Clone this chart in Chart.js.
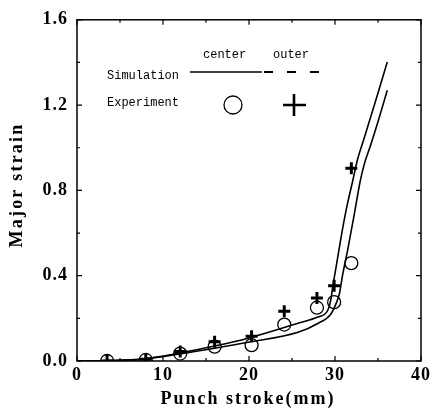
<!DOCTYPE html>
<html>
<head>
<meta charset="utf-8">
<script src="https://cdn.jsdelivr.net/npm/chart.js@4/dist/chart.umd.min.js"></script>
<style>
  html,body{margin:0;padding:0;background:#fff;}
  #wrap{width:434px;height:411px;}
</style>
</head>
<body>
<div id="wrap"><canvas id="c" width="434" height="411"></canvas></div>
<script>
// ---- data ----
const simOuterX = [0, 4, 7.6, 11.9, 16, 19.9, 25.7, 28.0, 29.16, 29.55, 29.74, 30.12, 30.7, 31.27, 32.05, 32.62, 33.39, 34.16, 34.93, 36.08];
const simOuterY = [0, 0.002, 0.009, 0.037, 0.07, 0.107, 0.177, 0.206, 0.238, 0.295, 0.35, 0.439, 0.579, 0.703, 0.843, 0.945, 1.045, 1.146, 1.247, 1.402];
const simCenterX = [0, 4, 7.6, 11.9, 16, 19.9, 25.7, 28.0, 29.55, 30.12, 30.51, 30.89, 31.47, 32.24, 32.93, 33.39, 34.16, 35.12, 36.08];
const simCenterY = [0, 0.002, 0.009, 0.033, 0.06, 0.088, 0.135, 0.176, 0.222, 0.269, 0.315, 0.405, 0.52, 0.688, 0.843, 0.921, 1.014, 1.138, 1.27];
const expX = [3.5, 8, 12, 16, 20.3, 24.1, 27.9, 29.9, 31.9];
const expCenterY = [0, 0.005, 0.035, 0.067, 0.074, 0.171, 0.25, 0.276, 0.459];
const expOuterY = [0, 0.008, 0.045, 0.09, 0.116, 0.233, 0.296, 0.353, 0.904];
const xTicks = [0, 10, 20, 30, 40];
const yTicks = [0.0, 0.4, 0.8, 1.2, 1.6];
const xMinorStep = 5;
const yMinorStep = 0.2;
const xTitle = 'Punch stroke(mm)';
const yTitle = 'Major strain';

const pts = (xs, ys) => xs.map((x, i) => ({x: x, y: ys[i]}));

const spacing = {
  id: 'spacing',
  beforeDraw(chart) { chart.ctx.letterSpacing = '1px'; },
  afterDraw(chart) { chart.ctx.letterSpacing = '0px'; }
};

const frameTicks = {
  id: 'frameTicks',
  afterDraw(chart) {
    const ctx = chart.ctx, a = chart.chartArea;
    const xs = chart.scales.x, ys = chart.scales.y;
    ctx.save();
    ctx.strokeStyle = '#000';
    ctx.lineWidth = 1.5;
    ctx.strokeRect(a.left, a.top, a.right - a.left, a.bottom - a.top);
    ctx.lineWidth = 1.2;
    ctx.beginPath();
    for (let v = xs.min; v <= xs.max + 1e-9; v += xMinorStep) {
      const p = xs.getPixelForValue(v);
      const L = xTicks.includes(v) ? 5 : 3;
      ctx.moveTo(p, a.bottom); ctx.lineTo(p, a.bottom - L);
      ctx.moveTo(p, a.top); ctx.lineTo(p, a.top + L);
    }
    for (let i = 0; i * yMinorStep <= ys.max + 1e-9; i++) {
      const p = ys.getPixelForValue(i * yMinorStep);
      const L = (i % 2 === 0) ? 5 : 3;
      ctx.moveTo(a.left, p); ctx.lineTo(a.left + L, p);
      ctx.moveTo(a.right, p); ctx.lineTo(a.right - L, p);
    }
    ctx.stroke();

    // axis titles
    ctx.fillStyle = '#000';
    ctx.font = 'bold 18px "Liberation Serif", serif';
    ctx.letterSpacing = '2px';
    ctx.textAlign = 'center';
    ctx.textBaseline = 'alphabetic';
    ctx.fillText(xTitle, 248, 404);
    ctx.save();
    ctx.translate(22, 185);
    ctx.rotate(-Math.PI / 2);
    ctx.letterSpacing = '2.2px';
    ctx.fillText(yTitle, 0, 0);
    ctx.restore();

    // legend
    ctx.letterSpacing = '0px';
    ctx.font = '12px "Liberation Mono", monospace';
    ctx.textBaseline = 'middle';
    ctx.textAlign = 'left';
    ctx.fillText('center', 203, 55);
    ctx.fillText('outer', 273, 55);
    ctx.fillText('Simulation', 107, 76);
    ctx.fillText('Experiment', 107, 103);
    ctx.lineWidth = 1.5;
    ctx.beginPath(); ctx.moveTo(190, 72); ctx.lineTo(262, 72); ctx.stroke();
    ctx.lineWidth = 2;
    ctx.setLineDash([9, 14]);
    ctx.beginPath(); ctx.moveTo(264, 72); ctx.lineTo(322, 72); ctx.stroke();
    ctx.setLineDash([]);
    ctx.lineWidth = 1.3;
    ctx.beginPath(); ctx.arc(233, 105, 9, 0, Math.PI * 2); ctx.stroke();
    ctx.lineWidth = 2.6;
    ctx.beginPath();
    ctx.moveTo(283, 105); ctx.lineTo(306, 105);
    ctx.moveTo(294, 94); ctx.lineTo(294, 116);
    ctx.stroke();
    ctx.restore();
  }
};

const tickFont = {family: '"Liberation Serif", serif', size: 18, weight: 'bold'};

new Chart(document.getElementById('c'), {
  type: 'scatter',
  data: {
    datasets: [
      {label: 'Simulation outer', type: 'line', data: pts(simOuterX, simOuterY), borderColor: '#000', borderWidth: 1.6, pointRadius: 0, cubicInterpolationMode: 'monotone', fill: false},
      {label: 'Simulation center', type: 'line', data: pts(simCenterX, simCenterY), borderColor: '#000', borderWidth: 1.6, pointRadius: 0, cubicInterpolationMode: 'monotone', fill: false},
      {label: 'Experiment center', data: pts(expX, expCenterY), pointStyle: 'circle', pointRadius: 6.5, borderColor: '#000', backgroundColor: 'rgba(255,255,255,0)', borderWidth: 1.3},
      {label: 'Experiment outer', data: pts(expX, expOuterY), pointStyle: 'cross', pointRadius: 6, borderColor: '#000', borderWidth: 3}
    ]
  },
  options: {
    responsive: false,
    animation: false,
    layout: {padding: {top: 18, right: 3, left: 0, bottom: 0}},
    plugins: {legend: {display: false}, tooltip: {enabled: false}},
    scales: {
      x: {
        type: 'linear', min: 0, max: 40,
        afterBuildTicks: s => { s.ticks = xTicks.map(v => ({value: v})); },
        afterFit: s => { s.height = 50; },
        grid: {display: false, drawTicks: false},
        border: {display: false},
        ticks: {color: '#000', padding: 4, font: tickFont, maxRotation: 0},
        title: {display: false}
      },
      y: {
        type: 'linear', min: 0, max: 1.6,
        afterBuildTicks: s => { s.ticks = yTicks.map(v => ({value: v})); },
        afterFit: s => { s.width = 77; },
        grid: {display: false, drawTicks: false},
        border: {display: false},
        ticks: {color: '#000', padding: 9, callback: v => v.toFixed(1), font: tickFont},
        title: {display: false}
      }
    }
  },
  plugins: [spacing, frameTicks]
});
</script>
</body>
</html>
